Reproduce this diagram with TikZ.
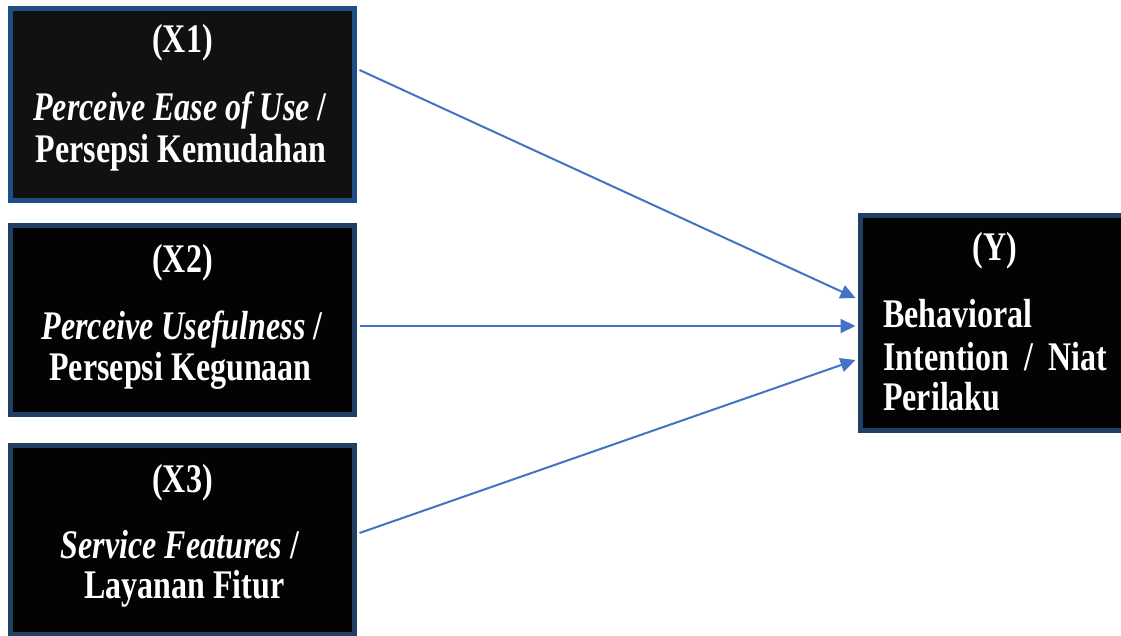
\documentclass[tikz,border=0pt]{standalone}
\usepackage{graphicx}
\usepackage{fontspec}
\setmainfont{Liberation Serif}
\usetikzlibrary{arrows.meta}
\definecolor{borderA}{HTML}{1F4E86}
\definecolor{borderB}{HTML}{203F63}
\definecolor{fillA}{HTML}{111111}
\definecolor{fillB}{HTML}{030303}
\definecolor{arrowc}{HTML}{4472C4}
\newcommand{\tallt}[1]{\scalebox{1}[1.27]{#1}}
\tikzset{
  varbox/.style={draw=borderB, fill=fillB, line width=5pt, inner sep=0pt, rectangle},
  lbl/.style={text=white, font=\fontsize{32}{38}\selectfont\bfseries, inner sep=0pt, anchor=base},
  lblw/.style={text=white, font=\fontsize{32}{38}\selectfont\bfseries, inner sep=0pt, anchor=base west},
  link/.style={draw=arrowc, line width=2pt, -{Triangle[length=15pt,width=14pt]}}
}
\begin{document}
\begin{tikzpicture}[x=1pt,y=-1pt]
\useasboundingbox (0,0) rectangle (1121,635);
\clip (0,0) rectangle (1121,635);
\node[varbox, draw=borderA, fill=fillA, minimum width=344pt, minimum height=192pt] (x1) at (182.5,104.5) {};
\node[varbox, minimum width=344pt, minimum height=189pt] (x2) at (182.5,320) {};
\node[varbox, minimum width=344pt, minimum height=189pt] (x3) at (182.5,540) {};
\node[varbox, minimum width=267.5pt, minimum height=215pt] (y) at (994.25,323) {};
% texts X1
\node[lbl] (t1a) at (182.5,52) {\tallt{(X1)}};
\node[lbl] (t1b) at (180,120) {\tallt{\textit{Perceive Ease of Use} /}};
\node[lbl] (t1c) at (181,162) {\tallt{Persepsi Kemudahan}};
% texts X2
\node[lbl] (t2a) at (182.5,272) {\tallt{(X2)}};
\node[lbl] (t2b) at (182,339) {\tallt{\textit{Perceive Usefulness} /}};
\node[lbl] (t2c) at (180.5,380) {\tallt{Persepsi Kegunaan}};
% texts X3
\node[lbl] (t3a) at (182.5,492) {\tallt{(X3)}};
\node[lbl] (t3b) at (180,558) {\tallt{\textit{Service Features} /}};
\node[lbl] (t3c) at (184.5,598) {\tallt{Layanan Fitur}};
% texts Y
\node[lbl] (tya) at (995,260) {\tallt{(Y)}};
\node[lblw] (tyb) at (883,327) {\tallt{Behavioral}};
\node[lblw] (tyc) at (883,370) {\tallt{\makebox[224pt][s]{Intention / Niat}}};
\node[lblw] (tyd) at (883,410) {\tallt{Perilaku}};
% links
\draw[link] ([xshift=2.5pt,yshift=34.5pt]x1.east) -- ([xshift=-2.5pt,yshift=25pt]y.west);
\draw[link] ([xshift=2.5pt,yshift=-6pt]x2.east) -- ([xshift=-2.5pt,yshift=-3pt]y.west);
\draw[link] ([xshift=2.5pt,yshift=7pt]x3.east) -- ([xshift=-2.5pt,yshift=-37pt]y.west);
\end{tikzpicture}
\end{document}
